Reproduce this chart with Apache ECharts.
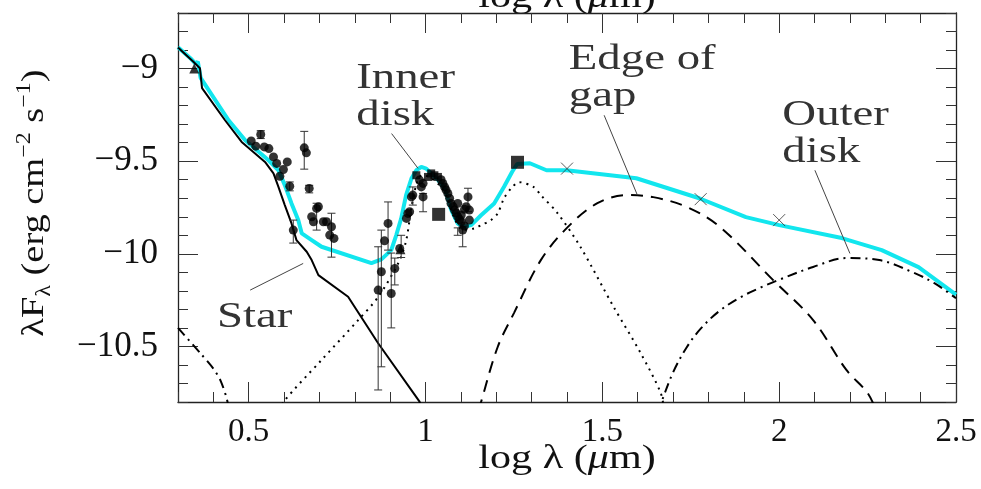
<!DOCTYPE html>
<html>
<head>
<meta charset="utf-8">
<script src="https://cdn.jsdelivr.net/npm/echarts@6/dist/echarts.min.js"></script>
<style>
  html, body { margin: 0; padding: 0; background: #fff; }
  #c { width: 981px; height: 489px; }
</style>
</head>
<body>
<div id="c"></div>
<script>
// ---- Spectral energy distribution: log lambda (um) vs log lambda*F_lambda ----

// Axis ticks
const xMajorTicks = [0.5, 1, 1.5, 2, 2.5];
const xMinorTicks = [0.3, 0.4, 0.5, 0.6, 0.7, 0.8, 0.9, 1.0, 1.1, 1.2, 1.3, 1.4, 1.5, 1.6, 1.7, 1.8, 1.9, 2.0, 2.1, 2.2, 2.3, 2.4, 2.5];
const yMajorTicks = [-10.5, -10, -9.5, -9];
const yMinorTicks = [-10.8, -10.7, -10.6, -10.5, -10.4, -10.3, -10.2, -10.1, -10.0, -9.9, -9.8, -9.7, -9.6, -9.5, -9.4, -9.3, -9.2, -9.1, -9.0, -8.9, -8.8, -8.7];

// Total model (star + inner disk + gap edge + outer disk)
const totalModel = [
  [0.300, -8.885], [0.335, -8.944], [0.350, -8.975], [0.356, -8.962], [0.364, -9.050],
  [0.443, -9.279], [0.490, -9.387], [0.556, -9.495], [0.584, -9.549], [0.602, -9.629],
  [0.621, -9.728], [0.640, -9.818], [0.650, -9.890], [0.678, -9.926], [0.706, -9.962],
  [0.847, -10.050], [0.875, -10.030], [0.903, -9.980], [0.917, -9.900], [0.931, -9.810],
  [0.945, -9.683], [0.960, -9.594], [0.974, -9.549], [0.988, -9.531], [1.002, -9.540],
  [1.016, -9.566], [1.035, -9.600], [1.055, -9.650], [1.072, -9.760], [1.091, -9.837],
  [1.105, -9.855], [1.129, -9.845], [1.157, -9.792], [1.194, -9.728], [1.222, -9.638],
  [1.245, -9.557], [1.259, -9.515], [1.295, -9.511], [1.342, -9.549], [1.399, -9.549],
  [1.596, -9.592], [1.774, -9.700], [1.906, -9.802], [2.000, -9.845], [2.177, -9.915],
  [2.290, -9.980], [2.394, -10.072], [2.500, -10.220]
];

// Stellar photosphere
const starModel = [
  [0.300, -8.886], [0.345, -8.966], [0.362, -8.998], [0.368, -9.106], [0.433, -9.279],
  [0.480, -9.396], [0.513, -9.450], [0.546, -9.504], [0.570, -9.566], [0.584, -9.639],
  [0.602, -9.737], [0.621, -9.836], [0.635, -9.926], [0.664, -9.989], [0.678, -10.034],
  [0.697, -10.115], [0.781, -10.232], [0.866, -10.483], [0.983, -10.798], [0.990, -10.840]
];

// Inner disk wall
const innerDisk = [
  [0.590, -10.850], [0.598, -10.800], [0.706, -10.573], [0.810, -10.357], [0.866, -10.233],
  [0.923, -10.050], [0.945, -9.930], [0.960, -9.750], [0.975, -9.620], [0.990, -9.575],
  [1.010, -9.585], [1.040, -9.630], [1.060, -9.690], [1.080, -9.800], [1.105, -9.870],
  [1.138, -9.863], [1.157, -9.845], [1.185, -9.818], [1.204, -9.782], [1.222, -9.700],
  [1.245, -9.640], [1.264, -9.613], [1.306, -9.640], [1.326, -9.683], [1.373, -9.780],
  [1.438, -9.963], [1.532, -10.287], [1.608, -10.535], [1.665, -10.751], [1.675, -10.850]
];

// Edge of the gap
const gapEdge = [
  [1.150, -10.850], [1.157, -10.800], [1.204, -10.503], [1.250, -10.320], [1.326, -10.034],
  [1.402, -9.856], [1.486, -9.727], [1.571, -9.683], [1.644, -9.694], [1.740, -9.748],
  [1.833, -9.856], [1.983, -10.142], [2.096, -10.358], [2.190, -10.627], [2.250, -10.751],
  [2.275, -10.850]
];

// Outer disk
const outerDisk = [
  [1.655, -10.860], [1.667, -10.800], [1.700, -10.640], [1.740, -10.500], [1.780, -10.400],
  [1.830, -10.310], [1.890, -10.235], [1.950, -10.180], [2.000, -10.140], [2.096, -10.071],
  [2.190, -10.023], [2.283, -10.034], [2.377, -10.099], [2.440, -10.160], [2.500, -10.240]
];
const outerDiskShort = [
  [0.300, -10.400], [0.363, -10.536], [0.400, -10.620], [0.420, -10.683], [0.439, -10.790],
  [0.443, -10.850]
];

// Photometry
const photCircles = [
  [0.507, -9.391], [0.520, -9.419], [0.534, -9.356], [0.544, -9.423], [0.557, -9.432],
  [0.570, -9.477], [0.579, -9.512], [0.588, -9.581], [0.598, -9.545], [0.609, -9.504],
  [0.616, -9.635], [0.657, -9.428], [0.663, -9.455], [0.671, -9.647], [0.626, -9.872],
  [0.678, -9.800], [0.683, -9.827], [0.692, -9.755], [0.697, -9.746], [0.711, -9.827],
  [0.720, -9.827], [0.729, -9.899], [0.741, -9.917], [0.734, -9.854],
  [0.866, -10.196], [0.875, -10.097], [0.884, -9.930], [0.894, -9.836], [0.903, -10.214],
  [0.913, -10.079], [0.927, -9.971], [0.946, -9.809], [0.950, -9.782], [0.955, -9.773],
  [0.960, -9.693], [0.964, -9.683], [0.983, -9.602], [0.988, -9.639], [0.993, -9.693],
  [0.993, -9.620], [1.044, -9.600], [1.049, -9.620], [1.054, -9.639], [1.058, -9.655],
  [1.063, -9.674], [1.068, -9.700], [1.072, -9.728], [1.078, -9.745], [1.082, -9.764],
  [1.087, -9.780], [1.091, -9.800], [1.096, -9.815], [1.101, -9.827], [1.105, -9.872],
  [1.110, -9.850], [1.110, -9.760], [1.091, -9.728], [1.115, -9.746], [1.120, -9.693],
  [1.124, -9.764], [1.124, -9.818], [1.101, -9.791]
];
const photSmallSquares = [
  [0.974, -9.576], [1.007, -9.585], [1.016, -9.566], [1.025, -9.576], [1.035, -9.585]
];
const photBigSquares = [[1.037, -9.787], [1.260, -9.506]];
const photTriangles = [[0.346, -9.000], [0.929, -9.975]];
const photCrosses = [[1.400, -9.540], [1.778, -9.705], [2.000, -9.818]];

// Error bars: [log lambda, lower, upper]
const errorBars = [
  [0.534, -9.378, -9.335], [0.616, -9.660, -9.612], [0.657, -9.543, -9.339],
  [0.671, -9.671, -9.630], [0.626, -9.942, -9.818], [0.692, -9.872, -9.727],
  [0.734, -10.018, -9.781], [0.866, -10.735, -9.962], [0.875, -10.610, -9.872],
  [0.894, -9.980, -9.720], [0.903, -10.400, -9.996], [0.913, -10.168, -10.023],
  [0.931, -10.020, -9.900], [0.964, -9.737, -9.639], [0.993, -9.773, -9.674],
  [1.120, -9.773, -9.646], [1.105, -9.962, -9.854], [1.091, -9.900, -9.860]
];

// Component labels: text lines, top-left anchor, leader line start/end
const labelTexts = [['Star'], ['Inner', 'disk'], ['Edge of', 'gap'], ['Outer', 'disk']];
const labelAnchors = [[0.410, -10.244], [0.804, -8.953], [1.405, -8.850], [2.009, -9.155]];
const leaderLines = [
  [[0.504, -10.196], [0.654, -10.052]],
  [[0.904, -9.351], [0.979, -9.539]],
  [[1.505, -9.252], [1.599, -9.683]],
  [[2.101, -9.549], [2.200, -9.998]]
];

const SERIF = '"Liberation Serif", "Times New Roman", serif';
const INK = '#111';

const chart = echarts.init(document.getElementById('c'), null, { renderer: 'canvas' });

function xAxisDef(position, ticks, len, withLine, withLabel) {
  return {
    type: 'value', min: 0.3, max: 2.5, position: position,
    splitLine: { show: false },
    axisLine: { show: withLine, onZero: false, lineStyle: { color: '#222', width: 1.3 } },
    axisTick: { show: true, inside: true, length: len, customValues: ticks, lineStyle: { color: '#333', width: 1 } },
    axisLabel: {
      show: withLabel, customValues: xMajorTicks, margin: 14,
      fontFamily: SERIF, fontSize: 33, color: INK,
      formatter: v => String(v)
    }
  };
}
function yAxisDef(position, ticks, len, withLine, withLabel) {
  return {
    type: 'value', min: -10.8, max: -8.7, position: position,
    splitLine: { show: false },
    axisLine: { show: withLine, onZero: false, lineStyle: { color: '#222', width: 1.3 } },
    axisTick: { show: true, inside: true, length: len, customValues: ticks, lineStyle: { color: '#333', width: 1 } },
    axisLabel: {
      show: withLabel, customValues: yMajorTicks, margin: 20,
      fontFamily: SERIF, fontSize: 35, color: INK,
      formatter: v => (v < 0 ? '\u2212' : '') + String(Math.abs(v))
    }
  };
}

function modelLine(name, data, color, width, dash, z, smooth) {
  return {
    name: name, type: 'line', data: data, showSymbol: false, symbol: 'none',
    smooth: smooth, z: z, silent: true,
    lineStyle: { color: color, width: width, type: dash }
  };
}

const option = {
  animation: false,
  backgroundColor: '#fff',
  grid: { left: 178, right: 25, top: 13, bottom: 87 },
  xAxis: [
    xAxisDef('bottom', xMajorTicks, 20, true, true),
    xAxisDef('bottom', xMinorTicks, 10, false, false),
    xAxisDef('top', xMajorTicks, 20, true, false),
    xAxisDef('top', xMinorTicks, 10, false, false)
  ],
  yAxis: [
    yAxisDef('left', yMajorTicks, 20, true, true),
    yAxisDef('left', yMinorTicks, 10, false, false),
    yAxisDef('right', yMajorTicks, 20, true, false),
    yAxisDef('right', yMinorTicks, 10, false, false)
  ],
  series: [
    modelLine('Total', totalModel, '#12e6ee', 4, 'solid', 2, false),
    modelLine('Star', starModel, '#000', 2, 'solid', 3, false),
    modelLine('Inner disk', innerDisk, '#000', 2, [2, 5], 3, 0.3),
    modelLine('Edge of gap', gapEdge, '#000', 2, [12, 8], 3, 0.35),
    modelLine('Outer disk', outerDisk, '#000', 2, [10, 5, 2, 5], 3, 0.35),
    modelLine('Outer disk (short)', outerDiskShort, '#000', 2, [10, 5, 2, 5], 3, 0.3),
    {
      type: 'custom', name: 'Errors', data: errorBars, z: 4, silent: true, clip: true,
      encode: { x: 0, y: [1, 2] },
      renderItem: (params, api) => {
        const x = api.value(0);
        const lo = api.coord([x, api.value(1)]);
        const hi = api.coord([x, api.value(2)]);
        const w = 4;
        const st = { stroke: '#333', lineWidth: 1 };
        return {
          type: 'group',
          children: [
            { type: 'line', shape: { x1: lo[0], y1: lo[1], x2: hi[0], y2: hi[1] }, style: st },
            { type: 'line', shape: { x1: lo[0] - w, y1: lo[1], x2: lo[0] + w, y2: lo[1] }, style: st },
            { type: 'line', shape: { x1: hi[0] - w, y1: hi[1], x2: hi[0] + w, y2: hi[1] }, style: st }
          ]
        };
      }
    },
    { type: 'scatter', name: 'Photometry', data: photCircles, symbol: 'circle', symbolSize: 9, z: 5, silent: true,
      itemStyle: { color: '#000' } },
    { type: 'scatter', name: 'Spectrum', data: photSmallSquares, symbol: 'rect', symbolSize: 8, z: 5, silent: true,
      itemStyle: { color: '#000' } },
    { type: 'scatter', name: 'Mid-IR', data: photBigSquares, symbol: 'rect', symbolSize: 13, z: 5, silent: true,
      itemStyle: { color: '#000' } },
    { type: 'scatter', name: 'Near-IR', data: photTriangles, symbol: 'triangle', symbolSize: 10, z: 5, silent: true,
      itemStyle: { color: '#000' } },
    { type: 'scatter', name: 'Far-IR', data: photCrosses, symbol: 'path://M0,0L10,10M10,0L0,10', symbolSize: 12, z: 5, silent: true,
      itemStyle: { color: 'none', borderColor: '#333', borderWidth: 1 } }
  ]
};
chart.setOption(option);

// Axis titles and component annotations
const toPx = p => chart.convertToPixel({ xAxisIndex: 0, yAxisIndex: 0 }, p);
const graphics = [];

const xTitleRich = {
  t: { fontFamily: SERIF, fontSize: 34, fill: INK },
  i: { fontFamily: SERIF, fontSize: 34, fontStyle: 'italic', fill: INK }
};
[459, -2].forEach(yy => {
  graphics.push({
    type: 'text', x: 567, y: yy, scaleX: 1.24, silent: true,
    style: { text: '{t|log λ (}{i|μ}{t|m)}', rich: xTitleRich, align: 'center', verticalAlign: 'middle' }
  });
});
graphics.push({
  type: 'text', x: 35, y: 203, rotation: Math.PI / 2, scaleX: 1.2, silent: true,
  style: {
    text: '{b|λF}{sb|λ}{b| (erg cm}{sp|\u22122}{b| s}{sp|\u22121}{b|)}',
    align: 'center', verticalAlign: 'middle',
    rich: {
      b: { fontFamily: SERIF, fontSize: 32, lineHeight: 40, fill: INK },
      sb: { fontFamily: SERIF, fontSize: 20, verticalAlign: 'bottom', fill: INK },
      sp: { fontFamily: SERIF, fontSize: 20, verticalAlign: 'top', fill: INK }
    }
  }
});

labelTexts.forEach((lines, k) => {
  const p = toPx(labelAnchors[k]);
  graphics.push({
    type: 'text', x: p[0], y: p[1], scaleX: 1.3, silent: true, z: 10,
    style: {
      text: lines.join('\n'), fontFamily: SERIF, fontSize: 36, lineHeight: 37,
      fill: '#333', align: 'left', verticalAlign: 'top'
    }
  });
  const a = toPx(leaderLines[k][0]);
  const b = toPx(leaderLines[k][1]);
  graphics.push({
    type: 'line', silent: true, z: 10,
    shape: { x1: a[0], y1: a[1], x2: b[0], y2: b[1] },
    style: { stroke: '#444', lineWidth: 1 }
  });
});

chart.setOption({ graphic: graphics });
</script>
</body>
</html>
